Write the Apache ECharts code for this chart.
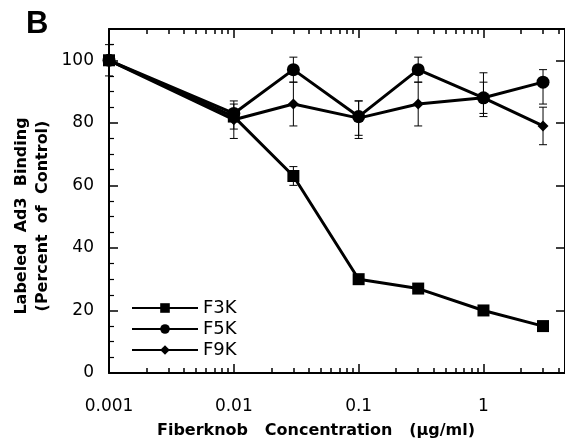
<!DOCTYPE html>
<html>
<head>
<meta charset="utf-8">
<script src="https://cdn.jsdelivr.net/npm/echarts@6/dist/echarts.min.js"></script>
<style>
  html, body { margin: 0; padding: 0; background: #fff; }
  #chart { width: 565px; height: 438px; }
</style>
</head>
<body>
<div id="chart"></div>
<script>
// ---- data ----
const concentrations = [0.001, 0.01, 0.03, 0.1, 0.3, 1, 3];
const f3k = [100, 82, 63, 30, 27, 20, 15];
const f5k = [100, 83, 97, 82, 97, 88, 93];
const f9k = [100, 81, 86, 81.5, 86, 88, 79];
// error bars: [x, low, high]
const errF3K = [[0.03, 60, 66]];
const errF5K = [[0.001, 95, 105], [0.01, 78, 87], [0.03, 93, 101], [0.1, 75, 87], [0.3, 93, 101], [1, 82, 96], [3, 86, 97]];
const errF9K = [[0.01, 75, 86], [0.03, 79, 93], [0.1, 76, 87], [0.3, 79, 93], [1, 83, 93], [3, 73, 85]];
const xMajorTicks = [0.001, 0.01, 0.1, 1];
const xMinorTicks = [0.002, 0.003, 0.004, 0.005, 0.006, 0.007, 0.008, 0.009,
                     0.02, 0.03, 0.04, 0.05, 0.06, 0.07, 0.08, 0.09,
                     0.2, 0.3, 0.4, 0.5, 0.6, 0.7, 0.8, 0.9, 2, 3, 4];
const yTickLabels = [0, 20, 40, 60, 80, 100];
const seriesNames = ['F3K', 'F5K', 'F9K'];

const X_MIN = 0.001, X_MAX = 4.5, Y_MIN = 0, Y_MAX = 110;
const FONT = 'DejaVu Sans';

const chart = echarts.init(document.getElementById('chart'), null, { renderer: 'canvas' });

function pairs(ys) { return concentrations.map((x, i) => [x, ys[i]]); }

function renderErr(params, api) {
  const x = api.value(0), lo = api.value(1), hi = api.value(2);
  const a = api.coord([x, lo]), b = api.coord([x, hi]);
  const w = 4;
  const st = { stroke: '#000', lineWidth: 1 };
  return { type: 'group', children: [
    { type: 'line', shape: { x1: a[0], y1: a[1], x2: b[0], y2: b[1] }, style: st },
    { type: 'line', shape: { x1: a[0] - w, y1: a[1], x2: a[0] + w, y2: a[1] }, style: st },
    { type: 'line', shape: { x1: b[0] - w, y1: b[1], x2: b[0] + w, y2: b[1] }, style: st }
  ] };
}

function xAxisCfg(pos, major) {
  return {
    type: 'log', logBase: 10, min: X_MIN, max: X_MAX, position: pos,
    axisLine: { show: major, onZero: false, lineStyle: { color: '#000', width: 2 } },
    axisTick: { show: true, inside: true, length: major ? 9 : 5,
      customValues: major ? xMajorTicks : xMinorTicks,
      lineStyle: { color: '#000', width: 1.5 } },
    axisLabel: { show: major && pos === 'bottom', customValues: xMajorTicks,
      formatter: v => String(v), color: '#000', fontSize: 17, fontFamily: FONT, margin: 25 },
    splitLine: { show: false }, minorTick: { show: false }
  };
}

function yAxisCfg(pos) {
  const left = pos === 'left';
  return {
    type: 'value', min: Y_MIN, max: Y_MAX, interval: 20, position: pos,
    axisLine: { show: true, onZero: false, lineStyle: { color: '#000', width: 2 } },
    axisTick: { show: true, inside: true, length: 9, lineStyle: { color: '#000', width: 1.5 } },
    minorTick: { show: left, splitNumber: 4, length: 5, lineStyle: { color: '#000', width: 1.2 } },
    axisLabel: { show: left, customValues: yTickLabels, color: '#000', fontSize: 17, fontFamily: FONT, margin: 15 },
    splitLine: { show: false }
  };
}

const lineBase = { type: 'line', xAxisIndex: 0, yAxisIndex: 0, z: 3,
  lineStyle: { color: '#000', width: 3 }, itemStyle: { color: '#000' }, emphasis: { disabled: true } };

const option = {
  animation: false,
  backgroundColor: '#fff',
  grid: { left: 109, top: 29, width: 459, bottom: 65, containLabel: false },
  xAxis: [xAxisCfg('bottom', true), xAxisCfg('bottom', false), xAxisCfg('top', true), xAxisCfg('top', false)],
  yAxis: [yAxisCfg('left'), yAxisCfg('right')],
  legend: {
    data: seriesNames, orient: 'vertical', left: 126, top: 294,
    itemWidth: 66, itemHeight: 12, itemGap: 3,
    textStyle: { color: '#000', fontSize: 18, fontFamily: FONT }
  },
  graphic: [
    { type: 'text', left: 26, top: 9, style: { text: 'B', font: 'bold 31px "Liberation Sans"', fill: '#000' } },
    { type: 'text', x: 22, y: 216, rotation: Math.PI / 2,
      style: { text: 'Labeled  Ad3  Binding', font: 'bold 16px "DejaVu Sans"', fill: '#000', align: 'center', verticalAlign: 'middle' } },
    { type: 'text', x: 43, y: 216, rotation: Math.PI / 2,
      style: { text: '(Percent  of  Control)', font: 'bold 16px "DejaVu Sans"', fill: '#000', align: 'center', verticalAlign: 'middle' } },
    { type: 'text', x: 316, y: 431,
      style: { text: 'Fiberknob   Concentration   (\u00b5g/ml)', font: 'bold 16px "DejaVu Sans"', fill: '#000', align: 'center', verticalAlign: 'middle' } }
  ],
  series: [
    Object.assign({}, lineBase, { name: 'F3K', data: pairs(f3k), symbol: 'rect', symbolSize: 12 }),
    Object.assign({}, lineBase, { name: 'F5K', data: pairs(f5k), symbol: 'circle', symbolSize: 13 }),
    Object.assign({}, lineBase, { name: 'F9K', data: pairs(f9k), symbol: 'diamond', symbolSize: 11 }),
    { type: 'custom', name: 'errF3K', xAxisIndex: 0, yAxisIndex: 0, z: 2, renderItem: renderErr, data: errF3K, encode: { x: 0, y: [1, 2] } },
    { type: 'custom', name: 'errF5K', xAxisIndex: 0, yAxisIndex: 0, z: 2, renderItem: renderErr, data: errF5K, encode: { x: 0, y: [1, 2] } },
    { type: 'custom', name: 'errF9K', xAxisIndex: 0, yAxisIndex: 0, z: 2, renderItem: renderErr, data: errF9K, encode: { x: 0, y: [1, 2] } }
  ]
};
chart.setOption(option);
</script>
</body>
</html>
